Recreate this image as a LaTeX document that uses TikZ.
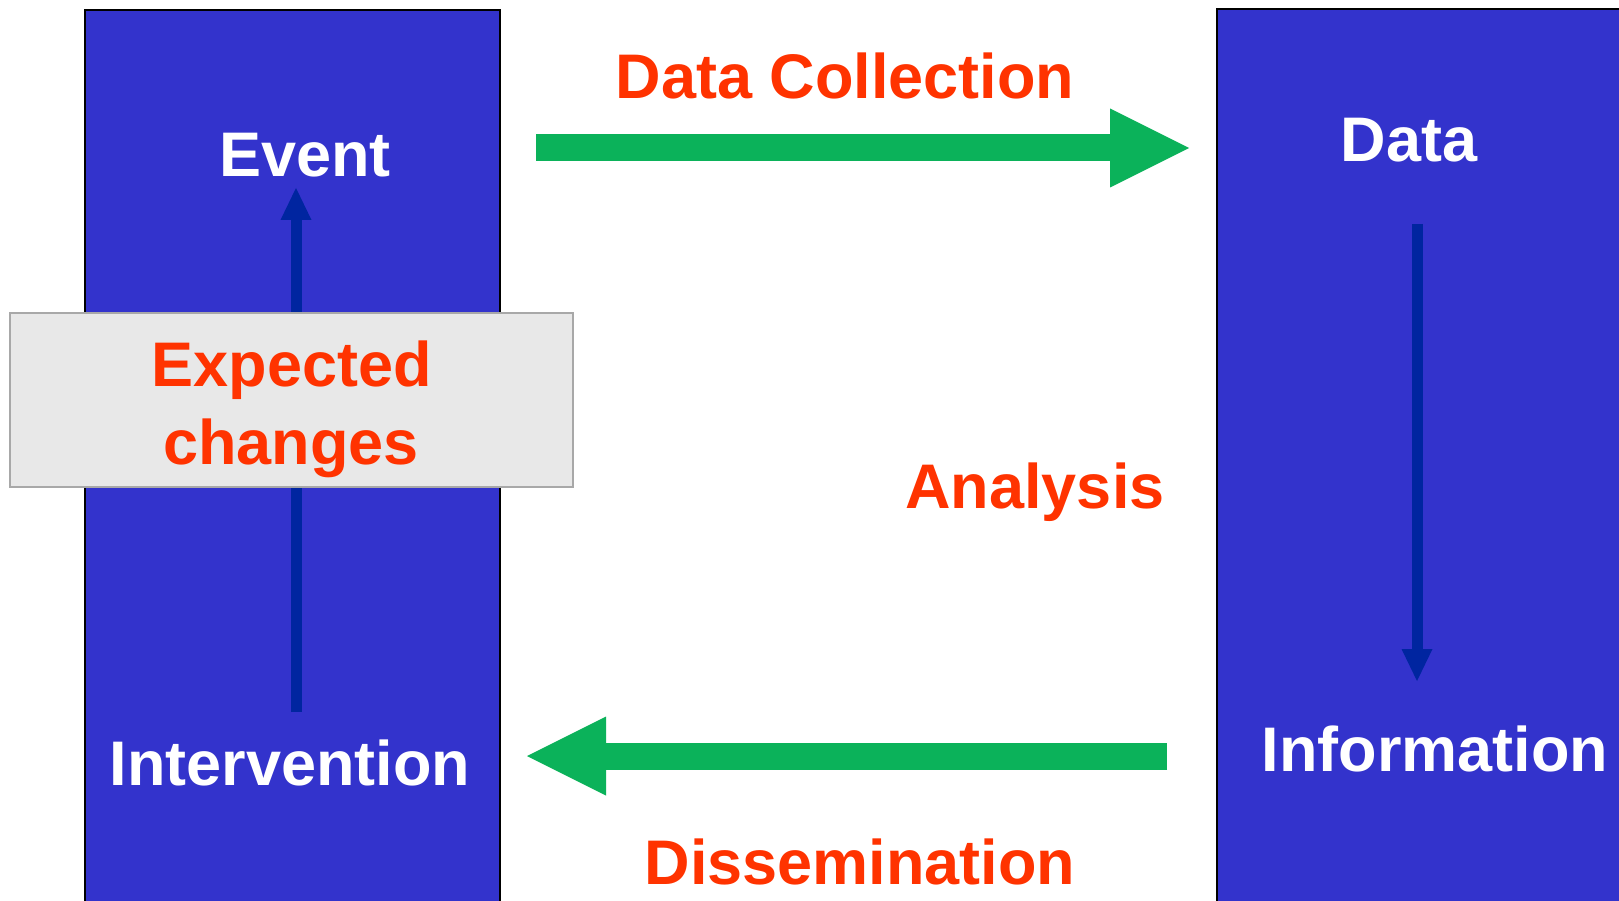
\documentclass[tikz,border=0pt]{standalone}
\usepackage{fontspec}
\setmainfont{Liberation Sans}
\usetikzlibrary{arrows.meta}
\definecolor{boxblue}{HTML}{3333CC}
\definecolor{darkarrow}{HTML}{0025A0}
\definecolor{flowgreen}{HTML}{0BB25A}
\definecolor{labelred}{HTML}{FF3300}
\definecolor{graybox}{HTML}{E8E8E8}
\definecolor{grayline}{HTML}{A8A8A8}
\begin{document}
\begin{tikzpicture}[x=1pt,y=-1pt,
  txt/.style={font=\fontsize{63}{78}\selectfont\bfseries, inner sep=0pt, anchor=base},
  whitetxt/.style={txt, text=white},
  redtxt/.style={txt, text=labelred},
  panel/.style={fill=boxblue, draw=black, line width=2pt},
  thinarrow/.style={draw=darkarrow, line width=11pt, -{Triangle[length=32pt,width=31pt,line width'=0pt]}},
  fatarrow/.style={draw=flowgreen, line width=27pt, -{Triangle[length=79pt,width=79pt,line width'=0pt]}},
]
\useasboundingbox (0,0) rectangle (1619,901);
\fill[white] (0,0) rectangle (1619,901);
% panels
\draw[panel] (85,10) rectangle (500,910);
\draw[panel] (1217,9) rectangle (1630,910);
% coordinates
\coordinate (dcS) at (536,148);
\coordinate (dcE) at (1189,148);
\coordinate (dsS) at (1167,756);
\coordinate (dsE) at (527,756);
\coordinate (upS) at (296,712);
\coordinate (upE) at (296,188);
\coordinate (dnS) at (1417,224);
\coordinate (dnE) at (1417,681);
% arrows
\draw[thinarrow] (upS) -- (upE);
\draw[thinarrow] (dnS) -- (dnE);
\draw[fatarrow] (dcS) -- (dcE);
\draw[fatarrow] (dsS) -- (dsE);
% gray box
\node[fill=graybox, draw=grayline, line width=2pt, minimum width=563pt, minimum height=174pt, inner sep=0pt] (expbox) at (291.5,400) {};
% texts
\node[whitetxt] (event) at (305,177) {Event};
\node[whitetxt] (intervention) at (290,785) {Intervention};
\node[whitetxt] (data) at (1409,162) {Data};
\node[whitetxt] (information) at (1435,771) {Information};
\node[redtxt] (expected) at (292,386) {Expected};
\node[redtxt] (changes) at (291,464) {changes};
\node[redtxt] (datacollection) at (845,99) {Data Collection};
\node[redtxt] (analysis) at (1035,508) {Analysis};
\node[redtxt] (dissemination) at (860,884) {Dissemination};
\end{tikzpicture}
\end{document}
